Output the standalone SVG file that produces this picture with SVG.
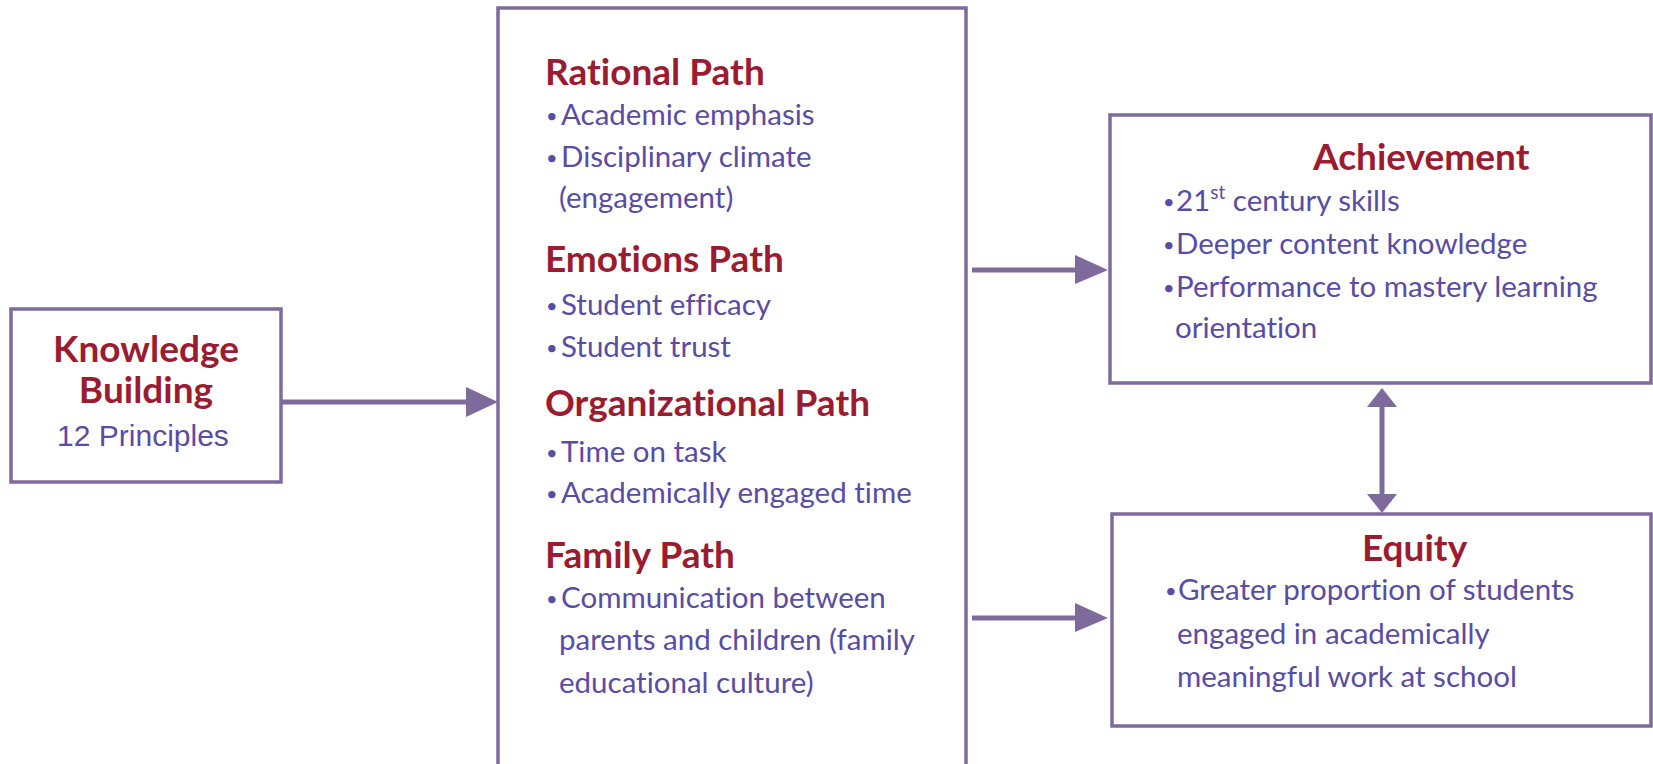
<svg xmlns="http://www.w3.org/2000/svg" width="1653" height="764" viewBox="0 0 1653 764">
<style>
text{font-variant-ligatures:none;font-feature-settings:"liga" 0}
.box{fill:#fff;stroke:#7f6a9c;stroke-width:3.5}
.conn{stroke:#7f6a9c;stroke-width:5;fill:none}
.head{fill:#7f6a9c}
.ttl{font-family:Lato,"Open Sans",sans-serif;font-weight:bold;font-size:37px;fill:#9b1c31}
.txt{font-family:Lato,"Open Sans",sans-serif;font-size:29.5px;fill:#5a4ca3}
.bul{font-size:20px}
.arial{font-family:"Liberation Sans",Arial,sans-serif;font-size:30px;fill:#5a4ca3}
</style>
<rect width="1653" height="764" fill="#fff"/>
<g id="connectors">
<line class="conn" x1="281" y1="402" x2="470" y2="402"/>
<polygon class="head" points="466,387 498,402 466,417"/>
<line class="conn" x1="972" y1="270" x2="1080" y2="270"/>
<polygon class="head" points="1075,255 1108,270 1075,284"/>
<line class="conn" x1="972" y1="618" x2="1080" y2="618"/>
<polygon class="head" points="1075,603 1108,618 1075,632"/>
<line class="conn" x1="1382" y1="402" x2="1382" y2="500"/>
<polygon class="head" points="1367,407 1382,388 1397,407"/>
<polygon class="head" points="1367,494 1382,513 1397,494"/>
</g>
<g id="knowledge">
<rect class="box" x="11" y="309" width="270" height="173"/>
<text class="ttl" x="146" y="362" text-anchor="middle">Knowledge</text>
<text class="ttl" x="146" y="403" text-anchor="middle">Building</text>
<text class="arial" x="143" y="446" text-anchor="middle">12 Principles</text>
</g>
<g id="paths">
<rect class="box" x="498" y="8" width="468" height="800"/>
<text class="ttl" x="545" y="85">Rational Path</text>
<text class="txt"><tspan class="bul" x="546" y="123">•</tspan><tspan x="561" y="125">Academic emphasis</tspan></text>
<text class="txt"><tspan class="bul" x="546" y="165">•</tspan><tspan x="561" y="167">Disciplinary climate</tspan></text>
<text class="txt" x="559" y="208">(engagement)</text>
<text class="ttl" x="545" y="272">Emotions Path</text>
<text class="txt"><tspan class="bul" x="546" y="313">•</tspan><tspan x="561" y="315">Student efficacy</tspan></text>
<text class="txt"><tspan class="bul" x="546" y="355">•</tspan><tspan x="561" y="357">Student trust</tspan></text>
<text class="ttl" x="545" y="416">Organizational Path</text>
<text class="txt"><tspan class="bul" x="546" y="460">•</tspan><tspan x="561" y="462">Time on task</tspan></text>
<text class="txt"><tspan class="bul" x="546" y="501">•</tspan><tspan x="561" y="503">Academically engaged time</tspan></text>
<text class="ttl" x="545" y="568">Family Path</text>
<text class="txt"><tspan class="bul" x="546" y="606">•</tspan><tspan x="561" y="608">Communication between</tspan></text>
<text class="txt" x="559" y="650">parents and children (family</text>
<text class="txt" x="559" y="693">educational culture)</text>
</g>
<g id="achievement">
<rect class="box" x="1110" y="115" width="541" height="268"/>
<text class="ttl" x="1313" y="170">Achievement</text>
<text class="txt"><tspan class="bul" x="1163" y="209">•</tspan><tspan x="1176" y="211">21</tspan><tspan font-size="19" dy="-12">st</tspan><tspan dy="12"> century skills</tspan></text>
<text class="txt"><tspan class="bul" x="1163" y="252">•</tspan><tspan x="1176" y="254">Deeper content knowledge</tspan></text>
<text class="txt"><tspan class="bul" x="1163" y="295">•</tspan><tspan x="1176" y="297">Performance to mastery learning</tspan></text>
<text class="txt" x="1175" y="338">orientation</text>
</g>
<g id="equity">
<rect class="box" x="1112" y="514" width="539" height="212"/>
<text class="ttl" x="1362" y="561">Equity</text>
<text class="txt"><tspan class="bul" x="1165" y="598">•</tspan><tspan x="1178" y="600">Greater proportion of students</tspan></text>
<text class="txt" x="1177" y="644">engaged in academically</text>
<text class="txt" x="1177" y="687">meaningful work at school</text>
</g>
</svg>
